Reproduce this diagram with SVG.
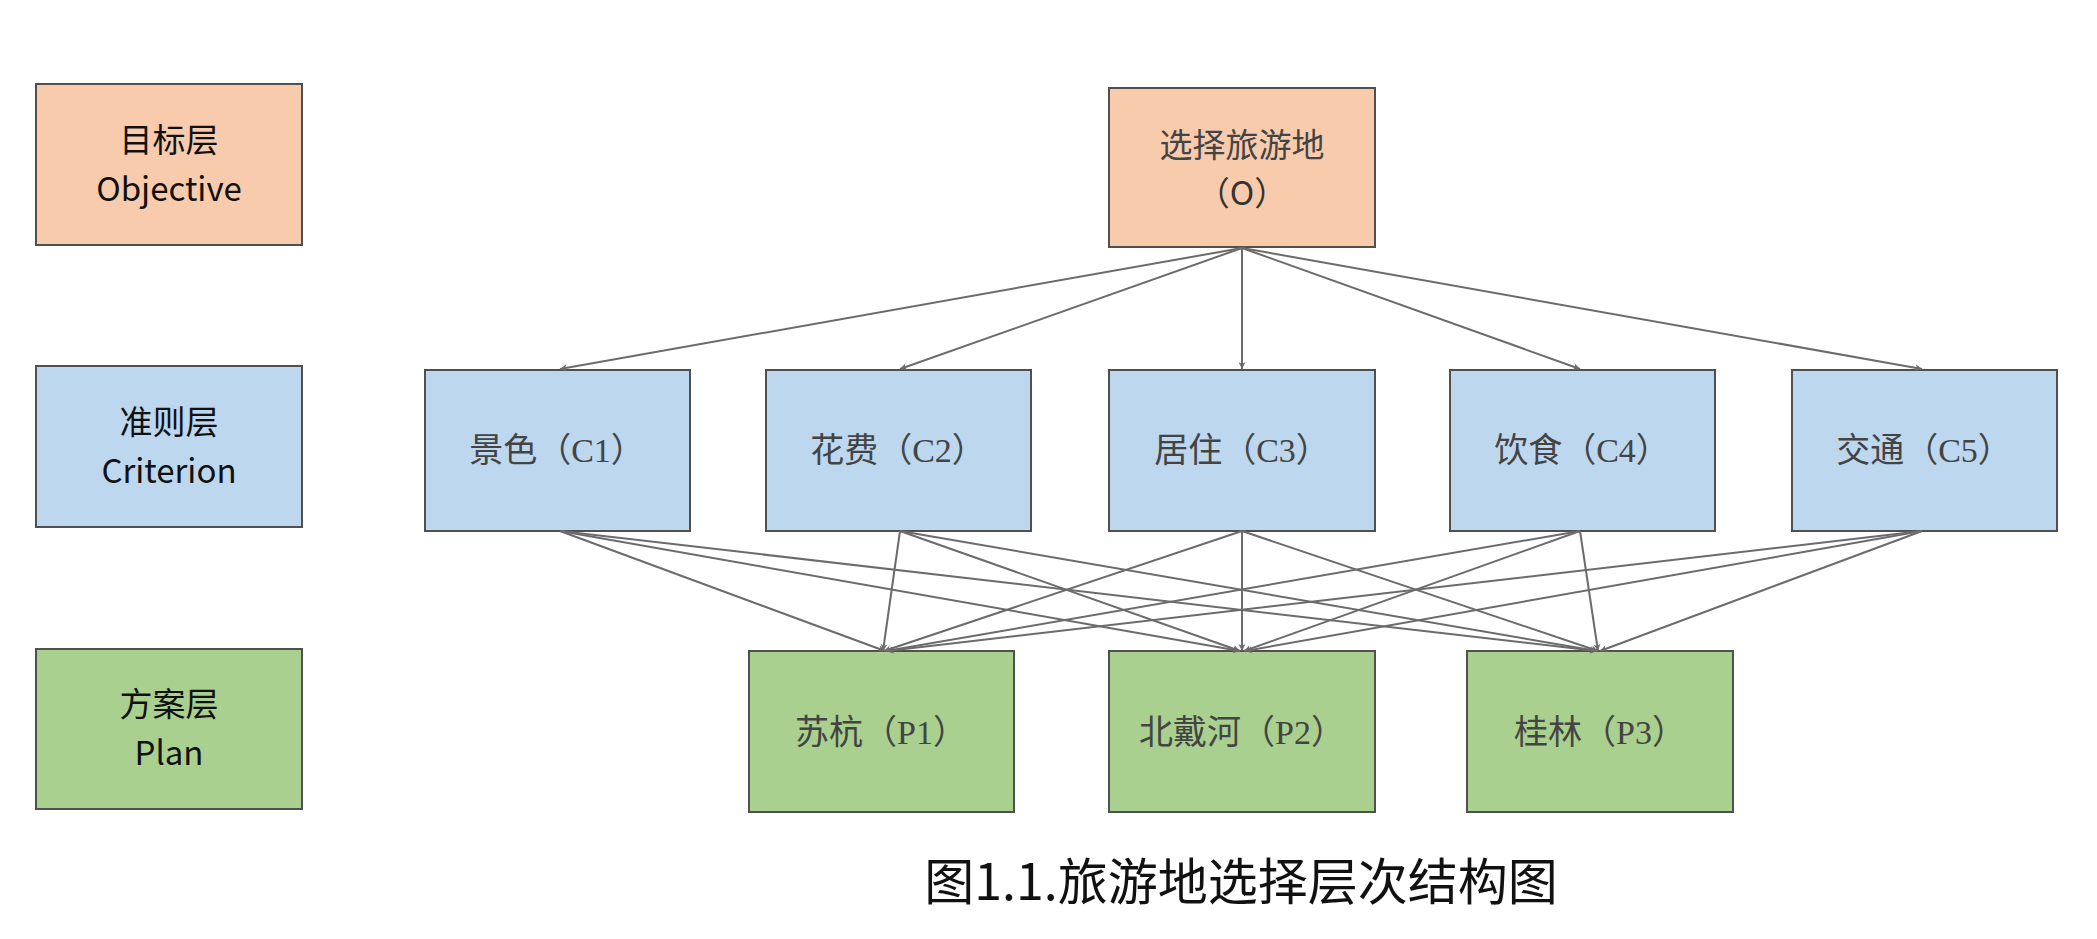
<svg xmlns="http://www.w3.org/2000/svg" width="2097" height="939" viewBox="0 0 2097 939">
<defs>
<marker id="ah" viewBox="0 0 10 10" refX="10" refY="5" markerWidth="7" markerHeight="7" orient="auto" markerUnits="userSpaceOnUse" overflow="visible">
<path d="M0,0 L10,5 L0,10 L3,5 z" fill="#6b6b6b"/>
</marker>
<style>
.o{fill:#f8cbad;stroke:#505050;stroke-width:2}
.c{fill:#bdd7ee;stroke:#505050;stroke-width:2}
.p{fill:#a9d08e;stroke:#505050;stroke-width:2}
.lt{font-family:"Noto Sans CJK SC","Noto Sans",sans-serif;font-size:33px;fill:#111;text-anchor:middle}
.bt{font-family:"Liberation Serif","Noto Sans CJK SC",serif;font-size:34px;fill:#444;text-anchor:middle}
.ln{stroke:#6b6b6b;stroke-width:2;fill:none;marker-end:url(#ah)}
</style>
</defs>
<rect width="2097" height="939" fill="#fff"/>
<g id="legend-objective"><rect class="o" x="36" y="84" width="266" height="161"/><text class="lt" x="169" y="152">目标层</text><text class="lt" x="169" y="201">Objective</text></g>
<g id="legend-criterion"><rect class="c" x="36" y="366" width="266" height="161"/><text class="lt" x="169" y="434">准则层</text><text class="lt" x="169" y="483">Criterion</text></g>
<g id="legend-plan"><rect class="p" x="36" y="649" width="266" height="160"/><text class="lt" x="169" y="716">方案层</text><text class="lt" x="169" y="765">Plan</text></g>
<g id="O"><rect class="o" x="1109" y="88" width="266" height="159"/><text class="lt" x="1242" y="157" style="fill:#444">选择旅游地</text><text class="lt" x="1242" y="205" style="fill:#333">（O）</text></g>
<g id="C1"><rect class="c" x="425" y="370" width="265" height="161"/><text class="bt" x="557" y="462">景色（C1）</text></g>
<g id="C2"><rect class="c" x="766" y="370" width="265" height="161"/><text class="bt" x="898" y="462">花费（C2）</text></g>
<g id="C3"><rect class="c" x="1109" y="370" width="266" height="161"/><text class="bt" x="1242" y="462">居住（C3）</text></g>
<g id="C4"><rect class="c" x="1450" y="370" width="265" height="161"/><text class="bt" x="1582" y="462">饮食（C4）</text></g>
<g id="C5"><rect class="c" x="1792" y="370" width="265" height="161"/><text class="bt" x="1924" y="462">交通（C5）</text></g>
<g id="P1"><rect class="p" x="749" y="651" width="265" height="161"/><text class="bt" x="881" y="744">苏杭（P1）</text></g>
<g id="P2"><rect class="p" x="1109" y="651" width="266" height="161"/><text class="bt" x="1242" y="744">北戴河（P2）</text></g>
<g id="P3"><rect class="p" x="1467" y="651" width="266" height="161"/><text class="bt" x="1600" y="744">桂林（P3）</text></g>
<g id="connectors">
<line class="ln" x1="1242" y1="248" x2="560" y2="369"/>
<line class="ln" x1="1242" y1="248" x2="900" y2="369"/>
<line class="ln" x1="1242" y1="248" x2="1242" y2="369"/>
<line class="ln" x1="1242" y1="248" x2="1580" y2="369"/>
<line class="ln" x1="1242" y1="248" x2="1922" y2="369"/>
<line class="ln" x1="560" y1="531" x2="885" y2="651"/>
<line class="ln" x1="560" y1="531" x2="1240" y2="651"/>
<line class="ln" x1="560" y1="531" x2="1597" y2="651"/>
<line class="ln" x1="900" y1="531" x2="883" y2="651"/>
<line class="ln" x1="900" y1="531" x2="1240" y2="651"/>
<line class="ln" x1="900" y1="531" x2="1597" y2="651"/>
<line class="ln" x1="1242" y1="531" x2="884" y2="651"/>
<line class="ln" x1="1242" y1="531" x2="1242" y2="651"/>
<line class="ln" x1="1242" y1="531" x2="1598" y2="651"/>
<line class="ln" x1="1580" y1="531" x2="886" y2="651"/>
<line class="ln" x1="1580" y1="531" x2="1244" y2="651"/>
<line class="ln" x1="1580" y1="531" x2="1598" y2="651"/>
<line class="ln" x1="1922" y1="531" x2="887" y2="651"/>
<line class="ln" x1="1922" y1="531" x2="1245" y2="651"/>
<line class="ln" x1="1922" y1="531" x2="1600" y2="651"/>
</g>
<text x="1241" y="900" style="font-family:'Noto Sans CJK SC',sans-serif;font-size:50px;fill:#111;text-anchor:middle">图1.1.旅游地选择层次结构图</text>
</svg>
